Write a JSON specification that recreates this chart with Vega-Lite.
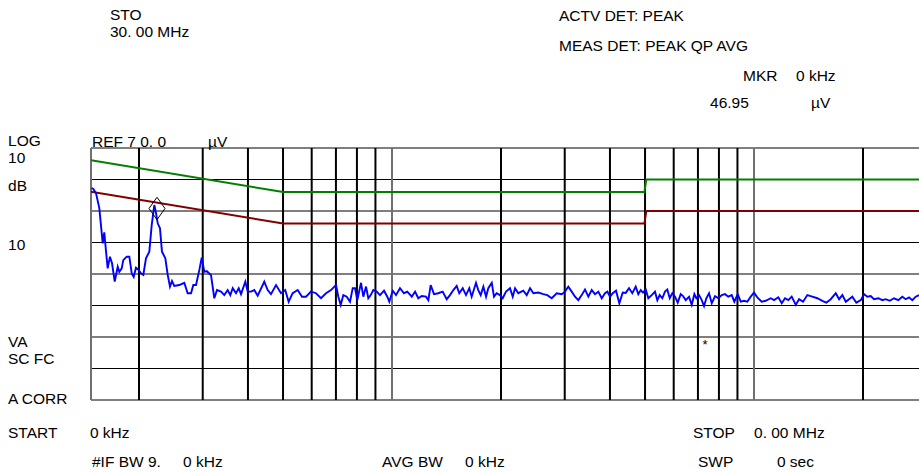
{
  "$schema": "https://vega.github.io/schema/vega-lite/v6.json",
  "autosize": "none",
  "width": 828,
  "height": 252,
  "padding": {"left": 91, "top": 148, "right": 0, "bottom": 73},
  "background": "white",
  "config": {"view": {"stroke": null}, "text": {"font": "Liberation Sans"}},
  "datasets": {
    "trace": [
      {"f":0.1479,"db":57.3},{"f":0.1496,"db":57.0},{"f":0.1522,"db":55.6},{"f":0.1554,"db":50.9},{"f":0.1588,"db":39.7},{"f":0.1604,"db":43.2},{"f":0.1622,"db":37.1},{"f":0.1639,"db":31.8},{"f":0.1663,"db":35.5},{"f":0.1685,"db":33.4},{"f":0.1714,"db":27.6},{"f":0.1747,"db":32.3},{"f":0.1765,"db":30.7},{"f":0.1792,"db":31.8},{"f":0.181,"db":34.4},{"f":0.185,"db":35.5},{"f":0.1881,"db":35.5},{"f":0.191,"db":30.2},{"f":0.1934,"db":29.1},{"f":0.1962,"db":32.0},{"f":0.1996,"db":31.3},{"f":0.2025,"db":30.2},{"f":0.2056,"db":29.7},{"f":0.2091,"db":35.0},{"f":0.2136,"db":37.1},{"f":0.2169,"db":45.6},{"f":0.2205,"db":51.9},{"f":0.2229,"db":49.3},{"f":0.2253,"db":46.1},{"f":0.2286,"db":44.5},{"f":0.2315,"db":37.1},{"f":0.2365,"db":35.0},{"f":0.2401,"db":29.7},{"f":0.2436,"db":26.0},{"f":0.2467,"db":27.8},{"f":0.2503,"db":26.2},{"f":0.2584,"db":26.5},{"f":0.2668,"db":27.2},{"f":0.2726,"db":23.9},{"f":0.2785,"db":23.9},{"f":0.2826,"db":26.5},{"f":0.2875,"db":26.5},{"f":0.2936,"db":31.3},{"f":0.2981,"db":35.2},{"f":0.3031,"db":30.7},{"f":0.3077,"db":30.9},{"f":0.3162,"db":29.7},{"f":0.3229,"db":22.3},{"f":0.3285,"db":24.9},{"f":0.337,"db":24.4},{"f":0.3441,"db":23.3},{"f":0.3516,"db":24.9},{"f":0.3575,"db":23.3},{"f":0.3631,"db":25.5},{"f":0.3708,"db":23.9},{"f":0.3772,"db":25.5},{"f":0.3828,"db":23.6},{"f":0.3934,"db":27.6},{"f":0.3994,"db":24.4},{"f":0.4079,"db":24.4},{"f":0.4165,"db":24.9},{"f":0.4256,"db":23.1},{"f":0.4438,"db":27.6},{"f":0.4535,"db":24.9},{"f":0.4631,"db":23.6},{"f":0.4782,"db":26.5},{"f":0.4936,"db":23.9},{"f":0.5071,"db":24.9},{"f":0.5182,"db":21.2},{"f":0.5316,"db":23.9},{"f":0.5488,"db":24.9},{"f":0.5641,"db":22.8},{"f":0.5786,"db":22.8},{"f":0.5973,"db":24.4},{"f":0.6167,"db":23.9},{"f":0.6366,"db":22.3},{"f":0.6572,"db":23.9},{"f":0.6784,"db":24.9},{"f":0.7003,"db":26.5},{"f":0.7107,"db":22.8},{"f":0.7216,"db":20.2},{"f":0.7337,"db":23.3},{"f":0.7498,"db":22.8},{"f":0.7656,"db":21.2},{"f":0.7788,"db":25.5},{"f":0.7904,"db":25.5},{"f":0.8019,"db":21.7},{"f":0.8211,"db":27.2},{"f":0.8332,"db":22.8},{"f":0.8477,"db":26.0},{"f":0.8601,"db":22.3},{"f":0.8735,"db":23.3},{"f":0.8879,"db":24.9},{"f":0.907,"db":24.4},{"f":0.9266,"db":23.3},{"f":0.9504,"db":24.7},{"f":0.9705,"db":22.8},{"f":0.983,"db":21.2},{"f":1.0045,"db":24.7},{"f":1.0258,"db":23.3},{"f":1.052,"db":25.5},{"f":1.079,"db":23.9},{"f":1.102,"db":24.4},{"f":1.134,"db":22.8},{"f":1.158,"db":24.4},{"f":1.182,"db":22.3},{"f":1.208,"db":23.0},{"f":1.241,"db":22.8},{"f":1.26,"db":21.7},{"f":1.279,"db":26.5},{"f":1.306,"db":23.6},{"f":1.342,"db":23.9},{"f":1.38,"db":24.4},{"f":1.416,"db":22.0},{"f":1.446,"db":23.3},{"f":1.477,"db":24.9},{"f":1.509,"db":26.2},{"f":1.534,"db":23.9},{"f":1.568,"db":25.5},{"f":1.601,"db":23.3},{"f":1.635,"db":25.5},{"f":1.66,"db":22.8},{"f":1.706,"db":27.2},{"f":1.731,"db":24.9},{"f":1.758,"db":23.3},{"f":1.788,"db":26.0},{"f":1.819,"db":22.8},{"f":1.845,"db":25.5},{"f":1.886,"db":27.2},{"f":1.913,"db":22.8},{"f":1.946,"db":23.9},{"f":1.987,"db":23.3},{"f":2.022,"db":22.3},{"f":2.065,"db":24.4},{"f":2.118,"db":25.5},{"f":2.155,"db":22.8},{"f":2.187,"db":25.5},{"f":2.233,"db":23.9},{"f":2.305,"db":24.7},{"f":2.356,"db":23.3},{"f":2.406,"db":25.5},{"f":2.457,"db":23.9},{"f":2.536,"db":24.1},{"f":2.618,"db":23.6},{"f":2.685,"db":23.3},{"f":2.762,"db":22.3},{"f":2.851,"db":23.9},{"f":2.943,"db":23.6},{"f":3.005,"db":24.4},{"f":3.069,"db":26.0},{"f":3.136,"db":24.4},{"f":3.203,"db":22.8},{"f":3.271,"db":21.7},{"f":3.342,"db":23.3},{"f":3.413,"db":25.1},{"f":3.486,"db":22.8},{"f":3.562,"db":24.9},{"f":3.637,"db":23.6},{"f":3.715,"db":24.4},{"f":3.796,"db":22.3},{"f":3.876,"db":23.9},{"f":3.934,"db":24.4},{"f":4.002,"db":22.8},{"f":4.071,"db":23.9},{"f":4.158,"db":24.7},{"f":4.246,"db":20.7},{"f":4.339,"db":24.1},{"f":4.422,"db":24.0},{"f":4.516,"db":25.5},{"f":4.611,"db":23.9},{"f":4.712,"db":26.0},{"f":4.791,"db":23.6},{"f":4.864,"db":24.9},{"f":4.936,"db":24.1},{"f":5.022,"db":25.1},{"f":5.105,"db":22.3},{"f":5.217,"db":23.3},{"f":5.327,"db":24.4},{"f":5.407,"db":21.7},{"f":5.489,"db":23.3},{"f":5.581,"db":22.3},{"f":5.677,"db":24.4},{"f":5.761,"db":25.1},{"f":5.85,"db":22.3},{"f":5.948,"db":23.9},{"f":6.051,"db":22.8},{"f":6.155,"db":20.9},{"f":6.274,"db":23.6},{"f":6.367,"db":23.0},{"f":6.477,"db":21.7},{"f":6.614,"db":22.8},{"f":6.729,"db":20.2},{"f":6.842,"db":23.6},{"f":6.929,"db":22.3},{"f":7.05,"db":23.3},{"f":7.171,"db":21.7},{"f":7.277,"db":19.8},{"f":7.384,"db":22.3},{"f":7.512,"db":23.9},{"f":7.643,"db":20.7},{"f":7.805,"db":23.0},{"f":7.97,"db":22.3},{"f":8.144,"db":23.3},{"f":8.317,"db":23.6},{"f":8.492,"db":22.8},{"f":8.678,"db":23.3},{"f":8.823,"db":21.2},{"f":9.016,"db":23.6},{"f":9.19,"db":21.2},{"f":9.385,"db":21.5},{"f":9.583,"db":21.2},{"f":9.793,"db":22.8},{"f":10.0,"db":24.1},{"f":10.21,"db":22.6},{"f":10.5,"db":21.2},{"f":10.77,"db":21.5},{"f":11.12,"db":22.3},{"f":11.36,"db":21.7},{"f":11.67,"db":22.6},{"f":11.93,"db":20.7},{"f":12.18,"db":22.3},{"f":12.44,"db":21.7},{"f":12.71,"db":22.8},{"f":13.04,"db":20.2},{"f":13.32,"db":22.0},{"f":13.66,"db":21.2},{"f":14.04,"db":23.3},{"f":14.49,"db":22.8},{"f":14.96,"db":22.3},{"f":15.44,"db":21.5},{"f":15.84,"db":20.9},{"f":16.29,"db":22.0},{"f":16.82,"db":23.9},{"f":17.18,"db":22.0},{"f":17.54,"db":23.3},{"f":17.93,"db":21.2},{"f":18.3,"db":22.0},{"f":18.69,"db":22.8},{"f":19.17,"db":20.9},{"f":19.72,"db":21.7},{"f":20.14,"db":23.6},{"f":20.56,"db":22.8},{"f":21.01,"db":23.0},{"f":21.45,"db":22.0},{"f":22.05,"db":22.3},{"f":22.62,"db":21.7},{"f":23.11,"db":22.0},{"f":23.71,"db":21.5},{"f":24.36,"db":22.3},{"f":25.04,"db":21.7},{"f":25.68,"db":22.8},{"f":26.25,"db":22.0},{"f":26.8,"db":22.6},{"f":27.37,"db":21.7},{"f":27.97,"db":22.8},{"f":28.56,"db":23.3}
    ],
    "limits": [
      {"limit":"QP","f":0.1474,"db":66.15},{"limit":"QP","f":0.5,"db":56},{"limit":"QP","f":4.98,"db":56},{"limit":"QP","f":5.04,"db":60},{"limit":"QP","f":28.56,"db":60},
      {"limit":"AVG","f":0.1474,"db":56.15},{"limit":"AVG","f":0.5,"db":46},{"limit":"AVG","f":4.98,"db":46},{"limit":"AVG","f":5.04,"db":50},{"limit":"AVG","f":28.56,"db":50}
    ],
    "hgrid": [{"db":-10},{"db":0},{"db":10},{"db":20},{"db":30},{"db":40},{"db":50},{"db":60},{"db":70}],
    "vgrid": [
      {"f":0.1474,"kind":"edge"},{"f":0.2,"kind":"minor"},{"f":0.3,"kind":"minor"},{"f":0.4,"kind":"minor"},{"f":0.5,"kind":"minor"},{"f":0.6,"kind":"minor"},{"f":0.7,"kind":"minor"},{"f":0.8,"kind":"minor"},{"f":0.9,"kind":"minor"},{"f":1,"kind":"decade"},{"f":2,"kind":"minor"},{"f":3,"kind":"minor"},{"f":4,"kind":"minor"},{"f":5,"kind":"minor"},{"f":6,"kind":"minor"},{"f":7,"kind":"minor"},{"f":8,"kind":"minor"},{"f":9,"kind":"minor"},{"f":10,"kind":"decade"},{"f":20,"kind":"minor"}
    ],
    "marker": [{"f":0.2243,"db":50.8}],
    "labels": [
      {"text":"STO","f":0.1663,"db":112.2},
      {"text":"30. 00 MHz","f":0.1663,"db":106.8},
      {"text":"ACTV DET: PEAK","f":2.893,"db":111.9},
      {"text":"MEAS DET: PEAK QP AVG","f":2.893,"db":102.4},
      {"text":"MKR","f":9.325,"db":92.85},
      {"text":"0 kHz","f":13.06,"db":92.85},
      {"text":"46.95","f":7.56,"db":84.3},
      {"text":"µV","f":14.37,"db":84.3},
      {"text":"LOG","f":0.08696,"db":72.3},
      {"text":"10","f":0.08696,"db":66.9},
      {"text":"dB","f":0.08696,"db":57.9},
      {"text":"10","f":0.08696,"db":39.2},
      {"text":"REF 7 0. 0","f":0.1483,"db":71.9},
      {"text":"µV","f":0.3102,"db":71.9},
      {"text":"VA","f":0.08696,"db":8.5},
      {"text":"SC FC","f":0.08696,"db":3.1},
      {"text":"A CORR","f":0.08696,"db":-9.7},
      {"text":"START","f":0.08696,"db":-20.5},
      {"text":"0 kHz","f":0.1464,"db":-20.5},
      {"text":"#IF BW 9.","f":0.1483,"db":-29.7},
      {"text":"0 kHz","f":0.2647,"db":-29.7},
      {"text":"AVG BW","f":0.9384,"db":-29.7},
      {"text":"0 kHz","f":1.591,"db":-29.7},
      {"text":"STOP","f":6.784,"db":-20.5},
      {"text":"0. 00 MHz","f":10.0,"db":-20.5},
      {"text":"SWP","f":7.003,"db":-29.7},
      {"text":"0  sec","f":11.57,"db":-29.7}
    ],
    "stars": [{"text":"*","f":7.322,"db":7.6}]
  },
  "encoding": {
    "x": {"field": "f", "type": "quantitative", "scale": {"type": "log", "domain": [0.1474, 28.56], "nice": false, "zero": false}, "axis": null},
    "y": {"field": "db", "type": "quantitative", "scale": {"domain": [-10, 70], "nice": false, "zero": false}, "axis": null}
  },
  "layer": [
    {
      "data": {"name": "hgrid"},
      "mark": {"type": "rule", "color": "#000000", "strokeWidth": 1.2},
      "encoding": {"x": null, "y": {"field": "db", "type": "quantitative"}}
    },
    {
      "data": {"name": "vgrid"},
      "transform": [{"filter": "datum.kind === 'minor'"}],
      "mark": {"type": "rule", "color": "#000000", "strokeWidth": 2},
      "encoding": {"y": null, "x": {"field": "f", "type": "quantitative"}}
    },
    {
      "data": {"name": "vgrid"},
      "transform": [{"filter": "datum.kind !== 'minor'"}],
      "mark": {"type": "rule", "color": "#707070", "strokeWidth": 2},
      "encoding": {"y": null, "x": {"field": "f", "type": "quantitative"}}
    },
    {
      "data": {"name": "limits"},
      "mark": {"type": "line", "strokeWidth": 2, "clip": true},
      "encoding": {
        "color": {"field": "limit", "type": "nominal", "scale": {"domain": ["QP", "AVG"], "range": ["#008000", "#800000"]}, "legend": null}
      }
    },
    {
      "data": {"name": "trace"},
      "mark": {"type": "line", "color": "#0000ff", "strokeWidth": 1.9, "clip": true}
    },
    {
      "data": {"name": "marker"},
      "mark": {"type": "point", "shape": "M0,-1.4L1,0L0,1.4L-1,0Z", "size": 256, "filled": false, "color": "#000000", "strokeWidth": 1, "opacity": 1}
    },
    {
      "data": {"name": "labels"},
      "mark": {"type": "text", "align": "left", "baseline": "middle", "fontSize": 15.5, "color": "#000000"},
      "encoding": {"text": {"field": "text"}}
    },
    {
      "data": {"name": "stars"},
      "mark": {"type": "text", "align": "center", "baseline": "middle", "fontSize": 13, "color": "#000000"},
      "encoding": {"text": {"field": "text"}}
    }
  ]
}
